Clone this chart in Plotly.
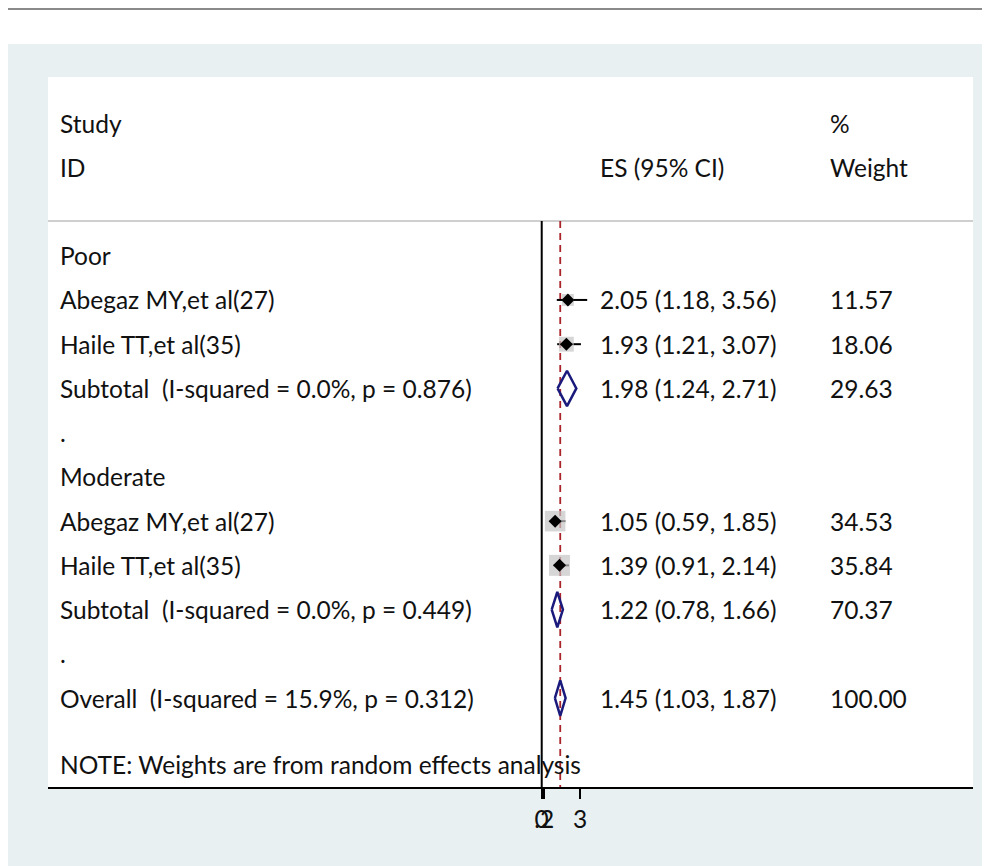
import plotly.graph_objects as go
import numpy as np

# ---------------- data ----------------
study_labels = ["Abegaz MY,et al(27)", "Haile TT,et al(35)",
                "Abegaz MY,et al(27)", "Haile TT,et al(35)"]
study_rows = [4, 5, 9, 10]
study_es = [2.05, 1.93, 1.05, 1.39]
study_lo = [1.18, 1.21, 0.59, 0.91]
study_hi = [3.56, 3.07, 1.85, 2.14]
study_wt = [11.57, 18.06, 34.53, 35.84]

pool_labels = ["Subtotal\u00a0 (I-squared = 0.0%, p = 0.876)",
               "Subtotal\u00a0 (I-squared = 0.0%, p = 0.449)",
               "Overall\u00a0 (I-squared = 15.9%, p = 0.312)"]
pool_rows = [6, 11, 13]
pool_es = [1.98, 1.22, 1.45]
pool_lo = [1.24, 0.78, 1.03]
pool_hi = [2.71, 1.66, 1.87]
pool_wt = [29.63, 70.37, 100.00]

group_labels = ["Poor", ".", "Moderate", "."]
group_rows = [3, 7, 8, 12]

note_text = "NOTE: Weights are from random effects analysis"
note_row = 14.5

tick_vals = [0, 0.2, 3]
tick_text = ["0", ".2", "3"]

overall_es = 1.45
null_value = 0

# ---------------- layout constants ----------------
# page has an 8px body margin, so the figure is drawn from page pixel (8, 8)
OFF = 8
W, H = 982, 858
L, R, T, B = 40, 17, 69, 79
FONT = "Lato"
FS = 24.5
TXT = "#111111"
x_range = [-38.66, 33.77]
y_range = [15.01, -1.04]
sep_row = 2.216

fig = go.Figure()

# CI lines
for r, lo, hi in zip(study_rows, study_lo, study_hi):
    fig.add_trace(go.Scatter(x=[lo, hi], y=[r, r], mode="lines",
                             line=dict(color="black", width=2),
                             hoverinfo="skip", showlegend=False))

# weight boxes
fig.add_trace(go.Scatter(x=study_es, y=study_rows, mode="markers",
                         marker=dict(symbol="square", color="#c4c4c4",
                                     size=[3.5 * np.sqrt(w) for w in study_wt],
                                     line=dict(width=0)),
                         hoverinfo="skip", showlegend=False))

# point markers
fig.add_trace(go.Scatter(x=study_es, y=study_rows, mode="markers",
                         marker=dict(symbol="diamond", color="black", size=10),
                         hoverinfo="skip", showlegend=False))

# pooled diamonds
hh = 0.4
for r, es, lo, hi in zip(pool_rows, pool_es, pool_lo, pool_hi):
    fig.add_trace(go.Scatter(x=[lo, es, hi, es, lo], y=[r, r - hh, r, r + hh, r],
                             mode="lines", line=dict(color="#1a1a7c", width=2.5),
                             hoverinfo="skip", showlegend=False))

# ---------------- shapes ----------------
def px2paper_x(p):
    return (p - OFF - L) / (W - L - R)

def px2paper_y(p):
    return (H - B - (p - OFF)) / (H - T - B)

shapes = [
    # light panel background
    dict(type="rect", xref="paper", yref="paper", layer="below",
         x0=px2paper_x(8), x1=px2paper_x(995), y0=px2paper_y(870), y1=px2paper_y(44),
         fillcolor="#e8f0f2", line=dict(width=0)),
    # white plot area
    dict(type="rect", xref="paper", yref="paper", layer="below",
         x0=0, x1=1, y0=0, y1=1, fillcolor="white", line=dict(width=0)),
    # top grey rule
    dict(type="line", xref="paper", yref="paper", layer="above",
         x0=px2paper_x(0), x1=px2paper_x(995), y0=px2paper_y(9), y1=px2paper_y(9),
         line=dict(color="#8a8a8a", width=2)),
    # header separator
    dict(type="line", xref="paper", yref="y", layer="below",
         x0=0, x1=1, y0=sep_row, y1=sep_row, line=dict(color="#cfcfcf", width=2)),
    # null line
    dict(type="line", xref="x", yref="y", layer="below",
         x0=null_value, x1=null_value, y0=sep_row, y1=y_range[0],
         line=dict(color="black", width=2)),
    # overall effect dashed line
    dict(type="line", xref="x", yref="y", layer="below",
         x0=overall_es, x1=overall_es, y0=sep_row, y1=y_range[0],
         line=dict(color="#a8232a", width=1.8, dash="7px,5px")),
]

# ---------------- text ----------------
ann = []
lab_x = px2paper_x(58)
es_x = px2paper_x(598)
wt_x = px2paper_x(828)

def add_text(x, y, t):
    ann.append(dict(x=x, y=y, xref="paper", yref="y", text=t, showarrow=False,
                    xanchor="left", yanchor="middle",
                    font=dict(family=FONT, size=FS, color=TXT)))

add_text(lab_x, 0, "Study")
add_text(lab_x, 1, "ID")
add_text(es_x, 1, "ES (95% CI)")
add_text(wt_x, 0, "%")
add_text(wt_x, 1, "Weight")

for lbl, r in zip(group_labels, group_rows):
    add_text(lab_x, r, lbl)

for lbl, r, es, lo, hi, w in zip(study_labels, study_rows, study_es, study_lo, study_hi, study_wt):
    add_text(lab_x, r, lbl)
    add_text(es_x, r, f"{es:.2f} ({lo:.2f}, {hi:.2f})")
    add_text(wt_x, r, f"{w:.2f}")

for lbl, r, es, lo, hi, w in zip(pool_labels, pool_rows, pool_es, pool_lo, pool_hi, pool_wt):
    add_text(lab_x, r, lbl)
    add_text(es_x, r, f"{es:.2f} ({lo:.2f}, {hi:.2f})")
    add_text(wt_x, r, f"{w:.2f}")

add_text(lab_x, note_row, note_text)

fig.update_layout(
    width=W, height=H,
    margin=dict(l=L, r=R, t=T, b=B, pad=0),
    paper_bgcolor="white",
    plot_bgcolor="rgba(0,0,0,0)",
    shapes=shapes,
    annotations=ann,
    showlegend=False,
    xaxis=dict(range=x_range, showgrid=False, zeroline=False,
               showline=True, linecolor="black", linewidth=2,
               ticks="outside", ticklen=10, tickwidth=1.5, tickcolor="black",
               tickvals=tick_vals, ticktext=tick_text, tickangle=0,
               tickfont=dict(family=FONT, size=FS, color=TXT)),
    yaxis=dict(range=y_range, showgrid=False, zeroline=False, showline=False,
               showticklabels=False, ticks=""),
)

fig.write_html("out.html", config={"displayModeBar": False})
